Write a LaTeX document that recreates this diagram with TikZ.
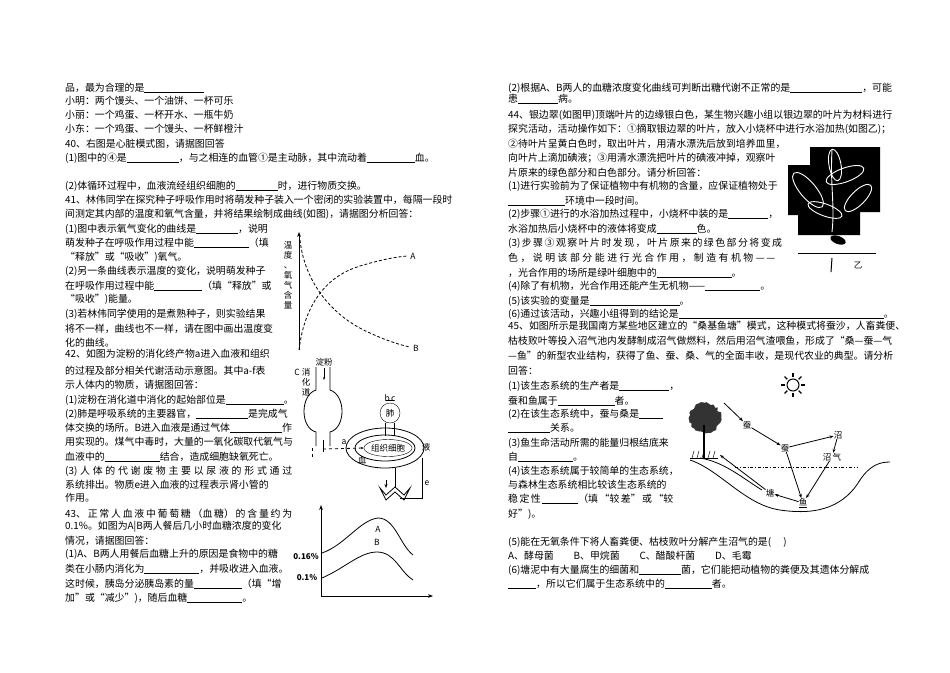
\documentclass[tikz,border=0pt]{standalone}
\usepackage{fontspec}
\setmainfont{Noto Sans CJK SC}
\usetikzlibrary{arrows.meta,decorations.pathmorphing,shapes.geometric,calc}
\newcommand\bl[1]{\rule[-1.5pt]{#1pt}{0.5pt}}
\newcommand\T[4]{\node[txt] (#1) at (#2,#3) {#4};}
\newcommand\J[5]{\node[txt] (#1) at (#2,#3) {\makebox[#4pt][s]{#5}};}
\begin{document}
\begin{tikzpicture}[x=1pt,y=-1pt,
  txt/.style={anchor=base west,inner sep=0pt,font=\fontsize{9.9}{11}\selectfont},
  lbl/.style={inner sep=0pt,font=\fontsize{8.5}{10}\selectfont},
  ln/.style={line width=0.8pt},
  arr/.style={line width=0.8pt,-{Stealth[length=4pt]}}]
\useasboundingbox (0,0) rectangle (950,672);
% ---------- left column ----------
\T{l1}{65}{91}{品，最为合理的是\bl{60}}
\T{l2}{65}{104}{小明：两个馒头、一个油饼、一杯可乐}
\T{l3}{65}{118}{小丽：一个鸡蛋、一杯开水、一瓶牛奶}
\T{l4}{65}{132}{小东：一个鸡蛋、一个馒头、一杯鲜橙汁}
\T{l5}{65}{147}{40、右图是心脏模式图，请据图回答}
\T{l6}{65}{161}{(1)图中的④是\bl{52}，与之相连的血管①是主动脉，其中流动着\bl{48}血。}
\T{l7}{65}{189}{(2)体循环过程中，血液流经组织细胞的\bl{42}时，进行物质交换。}
\T{l8}{65}{203}{41、林伟同学在探究种子呼吸作用时将萌发种子装入一个密闭的实验装置中，每隔一段时}
\T{l9}{65}{217}{间测定其内部的温度和氧气含量，并将结果绘制成曲线(如图)，请据图分析回答：}
\T{l10}{65}{232}{(1)图中表示氧气变化的曲线是\bl{42}，说明}
\T{l11}{65}{246}{萌发种子在呼吸作用过程中能\bl{55}（填}
\T{l12}{65}{260}{“释放”或“吸收”)氧气。}
\T{l13}{65}{274}{(2)另一条曲线表示温度的变化，说明萌发种子}
\T{l14}{65}{289}{在呼吸作用过程中能\bl{48}（填“释放”或}
\T{l15}{65}{302}{“吸收”)能量。}
\T{l16}{65}{317}{(3)若林伟同学使用的是煮熟种子，则实验结果}
\T{l17}{65}{332}{将不一样，曲线也不一样，请在图中画出温度变}
\T{l18}{65}{346}{化的曲线。}
\T{l19}{65}{357}{42、如图为淀粉的消化终产物a进入血液和组织}
\T{l20}{65}{374}{的过程及部分相关代谢活动示意图。其中a-f表}
\T{l21}{65}{388}{示人体内的物质，请据图回答：}
\T{l22}{65}{403}{(1)淀粉在消化道中消化的起始部位是\bl{58}。}
\T{l23}{65}{417}{(2)肺是呼吸系统的主要器官，\bl{52}是完成气}
\T{l24}{65}{431}{体交换的场所。B进入血液是通过气体\bl{52}作}
\T{l25}{65}{445}{用实现的。煤气中毒时，大量的一氧化碳取代氧气与}
\T{l26}{65}{460}{血液中的\bl{55}结合，造成细胞缺氧死亡。}
\J{l27}{65}{474}{227}{(3) 人 体 的 代 谢 废 物 主 要 以 尿 液 的 形 式 通 过}
\T{l28}{65}{488}{系统排出。物质e进入血液的过程表示肾小管的}
\T{l29}{65}{501}{作用。}
\J{l30}{65}{517}{227}{43、 正 常 人 血 液 中 葡 萄 糖 （血 糖） 的 含 量 约 为}
\J{l31}{65}{529}{227}{0.1\%。如图为A|B两人餐后几小时血糖浓度的变化}
\T{l32}{65}{544}{情况，请据图回答：}
\J{l33}{65}{557}{227}{(1)A、B两人用餐后血糖上升的原因是食物中的糖}
\T{l34}{65}{572}{类在小肠内消化为\bl{55}，并吸收进入血液。}
\T{l35}{65}{587}{这时候，胰岛分泌胰岛素的量\bl{48}（填“增}
\T{l36}{65}{601}{加”或“减少”)，随后血糖\bl{55}。}
% ---------- graph 41 ----------
\coordinate (g1o) at (299,350);
\coordinate (g1t) at (299,232);
\draw[line width=0.9pt,-{Stealth[length=5pt]}] (g1o) -- (g1t);
\node[lbl,align=center] (g1y) at (288,275) {温\\度\\、\\氧\\气\\含\\量};
\draw[ln,densely dashed] (g1o) .. controls (305,300) and (330,275) .. (360,266) .. controls (380,260) and (395,257) .. (407,256);
\draw[ln,densely dashed] (300,240) .. controls (305,285) and (335,318) .. (370,333) .. controls (385,340) and (400,345) .. (410,347);
\node[lbl] (gA) at (413,256) {A};
\node[lbl] (gB) at (416,348) {B};
% ---------- diagram 42 ----------
\node[lbl] (df) at (324,362) {淀粉};
\draw[ln,-{Stealth[length=3pt]}] (324,368) -- (324,380);
\node[lbl] (dC) at (297,372) {C};
\node[lbl,align=center] (dxh) at (306,382) {消\\化\\道};
\draw[ln] (316,367) -- (316,390) .. controls (300,395) and (300,428) .. (316,432) -- (316,446);
\draw[ln] (330,367) -- (330,390) .. controls (346,395) and (346,428) .. (330,432) -- (330,446);
\node[lbl,draw,circle,minimum size=20pt] (lung2) at (390,413) {肺};
\node[lbl] (bc) at (390,398) {b\,c};
\draw[ln] (386,400)--(394,400);
\draw[ln] (385,423) -- (385,436);
\draw[ln] (394,423) -- (394,436);
\draw[ln] (385,448) ellipse (39 and 20);
\draw[ln] (385,448) ellipse (30 and 13);
\node[lbl,draw,ellipse,minimum width=42pt,minimum height=17pt] (cell) at (388,448) {组织细胞};
\coordinate (aS) at (323,449);
\draw[ln,dashed,-{Stealth[length=3pt]}] (aS) -- (cell.west);
\draw[ln] (323,440) -- (323,452);
\node[lbl] (da) at (344,442) {a};
\node[lbl] (dxue) at (362,460) {血};
\node[lbl] (dye) at (426,447) {液};
\draw[ln,dashed] (312,448) -- (312,460);
\draw[ln] (395,468) -- (395,487);
\draw[ln,-{Stealth[length=4pt]}] (386,480) -- (386,488);
\draw[ln] (422,458) -- (422,498) -- (400,498);
\node[lbl] (de) at (427,483) {e};
\draw[ln] (380,488) -- (386,500) -- (395,492) -- (404,500) -- (410,488) -- (404,495) -- (395,487) -- (386,495) -- cycle;
% ---------- graph 43 ----------
\draw[line width=0.9pt,-{Stealth[length=5pt]}] (321,596) -- (321,505);
\draw[line width=0.9pt,-{Stealth[length=5pt]}] (321,596) -- (433,596);
\node[lbl,font=\bfseries\fontsize{8}{9}\selectfont] (p16) at (306,557) {0.16\%};
\node[lbl,font=\bfseries\fontsize{8}{9}\selectfont] (p1) at (307,578) {0.1\%};
\draw[ln] (322,553) .. controls (345,545) and (360,520) .. (378,518) .. controls (395,518) and (400,545) .. (413,555);
\draw[ln] (322,578) .. controls (345,568) and (360,552) .. (377,552) .. controls (395,552) and (400,572) .. (413,580);
\node[lbl] (cA) at (378,529) {A};
\node[lbl] (cB) at (377,542) {B};
% ---------- right column ----------
\T{r1}{508}{91}{(2)根据A、B两人的血糖浓度变化曲线可判断出糖代谢不正常的是\bl{72}，可能}
\T{r2}{508}{102}{患\bl{40}病。}
\T{r3}{508}{118}{44、银边翠(如图甲)顶端叶片的边缘银白色，某生物兴趣小组以银边翠的叶片为材料进行}
\T{r4}{508}{132}{探究活动，活动操作如下：①摘取银边翠的叶片，放入小烧杯中进行水浴加热(如图乙)；}
\T{r5}{508}{147}{②待叶片呈黄白色时，取出叶片，用清水漂洗后放到培养皿里，}
\T{r6}{508}{161}{向叶片上滴加碘液；③用清水漂洗把叶片的碘液冲掉，观察叶}
\T{r7}{508}{176}{片原来的绿色部分和白色部分。请分析回答：}
\T{r8}{508}{189}{(1)进行实验前为了保证植物中有机物的含量，应保证植物处于}
\T{r9}{508}{204}{\bl{57}环境中一段时间。}
\T{r10}{508}{217}{(2)步骤①进行的水浴加热过程中，小烧杯中装的是\bl{40}，}
\T{r11}{508}{232}{水浴加热后小烧杯中的液体将变成\bl{40}色。}
\J{r12}{508}{246}{267}{(3) 步 骤 ③ 观 察 叶 片 时 发 现 ， 叶 片 原 来 的 绿 色 部 分 将 变 成}
\J{r13}{508}{261}{267}{色 ， 说 明 该 部 分 能 进 行 光 合 作 用 ， 制 造 有 机 物 —\,—}
\T{r14}{508}{276}{，光合作用的场所是绿叶细胞中的\bl{75}。}
\T{r15}{508}{289}{(4)除了有机物，光合作用还能产生无机物——\bl{55}。}
\T{r16}{508}{304}{(5)该实验的变量是\bl{90}。}
\T{r17}{508}{317}{(6)通过该活动，兴趣小组得到的结论是\bl{205}。}
\T{r18}{508}{329}{45、如图所示是我国南方某些地区建立的“桑基鱼塘”模式，这种模式将蚕沙，人畜粪便、}
\T{r19}{508}{344}{枯枝败叶等投入沼气池内发酵制成沼气做燃料，然后用沼气渣喂鱼，形成了“桑—蚕—气}
\T{r20}{508}{359}{—鱼”的新型农业结构，获得了鱼、蚕、桑、气的全面丰收，是现代农业的典型。请分析}
\T{r21}{508}{374}{回答：}
\T{r22}{508}{389}{(1)该生态系统的生产者是\bl{50}，}
\T{r23}{508}{404}{蚕和鱼属于\bl{57}者。}
\T{r24}{508}{417}{(2)在该生态系统中，蚕与桑是\bl{24}}
\T{r25}{508}{431}{\bl{42}关系。}
\T{r26}{508}{446}{(3)鱼生命活动所需的能量归根结底来}
\T{r27}{508}{460}{自\bl{55}。}
\T{r28}{508}{474}{(4)该生态系统属于较简单的生态系统，}
\T{r29}{508}{488}{与森林生态系统相比较该生态系统的}
\J{r30}{508}{502}{163}{稳 定 性 \bl{36}（填 “较 差” 或 “较}
\T{r31}{508}{517}{好”)。}
\T{r32}{508}{545}{(5)能在无氧条件下将人畜粪便、枯枝败叶分解产生沼气的是(\quad\ )}
\T{r33}{508}{559}{A、酵母菌\qquad B、甲烷菌\qquad C、醋酸杆菌\qquad D、毛霉}
\T{r34}{508}{573}{(6)塘泥中有大量腐生的细菌和\bl{42}菌，它们能把动植物的粪便及其遗体分解成}
\T{r35}{508}{587}{\bl{28}，所以它们属于生态系统中的\bl{47}者。}
% ---------- leaf picture ----------
\fill[black] (810,147) -- (880,147) -- (880,212) -- (860,212) -- (860,235) -- (798,235) -- (798,215) -- (788,215) -- (788,165) -- (810,165) -- cycle;
\begin{scope}[white,line width=0.9pt]
\draw[rotate around={-50:(808,190)}] (808,190) ellipse (22 and 8);
\draw[rotate around={20:(845,175)}] (845,175) ellipse (20 and 7);
\draw[rotate around={-80:(835,165)}] (835,165) ellipse (16 and 6);
\draw[rotate around={45:(858,198)}] (858,198) ellipse (18 and 7);
\draw[rotate around={-20:(825,210)}] (825,210) ellipse (18 and 6);
\draw (832,150) .. controls (830,185) and (835,205) .. (832,232);
\end{scope}
\fill[black,rotate around={-20:(838,240)}] (838,240) ellipse (8 and 4);
\draw[line width=0.8pt] (798,253) -- (876,253);
\node[lbl] (yi) at (858,265) {乙};
\draw[line width=1pt] (832,258) -- (831,272);
% ---------- ecosystem ----------
\node[lbl,draw,circle,minimum size=12pt,line width=1pt] (sun) at (793,385) {};
\foreach \a in {0,45,...,315} \draw[line width=1.2pt] ($(793,385)+(\a:8)$) -- ($(793,385)+(\a:12)$);
\fill[black!80,decorate,decoration={random steps,segment length=3pt,amplitude=2pt}] (705,418) ellipse (16 and 15);
\draw[line width=2pt] (704,425) -- (704,458);
\draw[line width=0.6pt] (690,458) -- (718,458);
\foreach \gx in {692,697,702,708,713} \draw[line width=0.5pt] (\gx,458) -- (\gx+2,451);
\node[lbl] (can1) at (747,425) {蚕};
\node[lbl] (can2) at (785,448) {蚕};
\node[lbl] (zhao1) at (838,435) {沼};
\node[lbl] (zq) at (832,457) {沼\,气};
\node[lbl] (tang) at (770,493) {塘};
\node[lbl] (yu) at (803,503) {\underline{鱼}};
\coordinate (tree) at (720,455);
\coordinate (treetop) at (724,403);
\draw[ln] (690,460) .. controls (720,470) and (745,505) .. (780,510) .. controls (820,516) and (845,505) .. (860,480) .. controls (870,465) and (880,462) .. (890,462);
\draw[ln] (700,458) .. controls (725,462) and (745,480) .. (762,490);
\draw[line width=0.6pt,dash dot] (735,467) -- (858,467);
\draw[arr] (treetop) -- (can1);
\draw[arr] (can1) -- (can2);
\draw[arr] (can2) -- (zhao1);
\draw[arr] (zhao1) -- (zq);
\draw[arr] (can2) -- (yu);
\draw[arr] (zq) -- (yu);
\draw[arr] (yu) -- (tang);
\draw[arr] (tang) -- (tree);
\end{tikzpicture}
\end{document}
